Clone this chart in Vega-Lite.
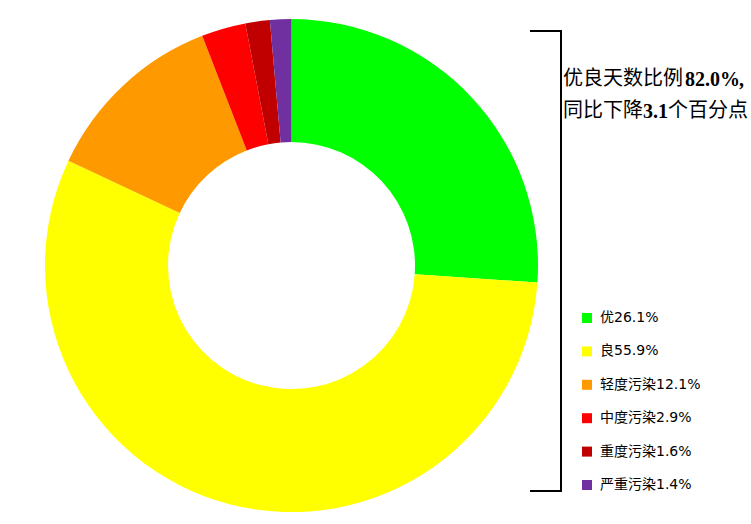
{
  "$schema": "https://vega.github.io/schema/vega-lite/v6.json",
  "width": 751,
  "height": 524,
  "padding": 0,
  "autosize": {"type": "none"},
  "background": "white",
  "config": {"view": {"stroke": null}},
  "data": {"values": [{}]},
  "datasets": {
    "air": [
      {"label": "优26.1%", "share": 26.1, "rank": 1},
      {"label": "良55.9%", "share": 55.9, "rank": 2},
      {"label": "轻度污染12.1%", "share": 12.1, "rank": 3},
      {"label": "中度污染2.9%", "share": 2.9, "rank": 4},
      {"label": "重度污染1.6%", "share": 1.6, "rank": 5},
      {"label": "严重污染1.4%", "share": 1.4, "rank": 6}
    ]
  },
  "encoding": {
    "x": {"type": "quantitative", "scale": {"domain": [0, 751], "nice": false, "zero": false}, "axis": null},
    "y": {"type": "quantitative", "scale": {"domain": [0, 524], "nice": false, "zero": false, "reverse": true}, "axis": null}
  },
  "layer": [
    {
      "data": {"name": "air"},
      "mark": {"type": "arc", "outerRadius": 246.5, "innerRadius": 123.5, "stroke": null},
      "encoding": {
        "x": {"datum": 291.5, "type": "quantitative"},
        "y": {"datum": 265.6, "type": "quantitative"},
        "theta": {"field": "share", "type": "quantitative", "stack": true},
        "order": {"field": "rank", "type": "quantitative"},
        "color": {
          "field": "label",
          "type": "nominal",
          "sort": null,
          "scale": {
            "domain": ["优26.1%", "良55.9%", "轻度污染12.1%", "中度污染2.9%", "重度污染1.6%", "严重污染1.4%"],
            "range": ["#00ff00", "#ffff00", "#ff9900", "#ff0000", "#c00000", "#7030a0"]
          },
          "legend": {
            "orient": "none",
            "legendX": 580,
            "legendY": 311,
            "title": null,
            "padding": 0,
            "symbolType": "square",
            "symbolSize": 100,
            "symbolStrokeWidth": 0,
            "labelFont": "DejaVu Sans, Noto Sans CJK SC",
            "labelFontSize": 14,
            "labelColor": "#000000",
            "labelOffset": 6,
            "rowPadding": 19.4,
            "labelLimit": 300
          }
        }
      }
    },
    {
      "mark": {"type": "rule", "color": "#000000", "strokeWidth": 2},
      "encoding": {
        "x": {"datum": 561},
        "y": {"datum": 31},
        "y2": {"datum": 491}
      }
    },
    {
      "mark": {"type": "rule", "color": "#000000", "strokeWidth": 2},
      "encoding": {
        "x": {"datum": 530},
        "x2": {"datum": 562},
        "y": {"datum": 31}
      }
    },
    {
      "mark": {"type": "rule", "color": "#000000", "strokeWidth": 2},
      "encoding": {
        "x": {"datum": 530},
        "x2": {"datum": 562},
        "y": {"datum": 491}
      }
    },
    {
      "mark": {"type": "text", "align": "left", "baseline": "middle", "font": "Noto Sans CJK SC", "fontSize": 20, "color": "#000000", "text": "优良天数比例"},
      "encoding": {"x": {"datum": 563}, "y": {"datum": 79}}
    },
    {
      "mark": {"type": "text", "align": "left", "baseline": "middle", "font": "Liberation Serif", "fontWeight": "bold", "fontSize": 20, "color": "#000000", "text": "82.0%"},
      "encoding": {"x": {"datum": 685}, "y": {"datum": 80}}
    },
    {
      "mark": {"type": "text", "align": "left", "baseline": "middle", "font": "Liberation Serif", "fontWeight": "bold", "fontSize": 20, "color": "#000000", "text": ","},
      "encoding": {"x": {"datum": 739}, "y": {"datum": 80}}
    },
    {
      "mark": {"type": "text", "align": "left", "baseline": "middle", "font": "Noto Sans CJK SC", "fontSize": 20, "color": "#000000", "text": "同比下降"},
      "encoding": {"x": {"datum": 563}, "y": {"datum": 111}}
    },
    {
      "mark": {"type": "text", "align": "left", "baseline": "middle", "font": "Liberation Serif", "fontWeight": "bold", "fontSize": 20, "color": "#000000", "text": "3.1"},
      "encoding": {"x": {"datum": 643}, "y": {"datum": 112}}
    },
    {
      "mark": {"type": "text", "align": "left", "baseline": "middle", "font": "Noto Sans CJK SC", "fontSize": 20, "color": "#000000", "text": "个百分点"},
      "encoding": {"x": {"datum": 668}, "y": {"datum": 111}}
    }
  ]
}
